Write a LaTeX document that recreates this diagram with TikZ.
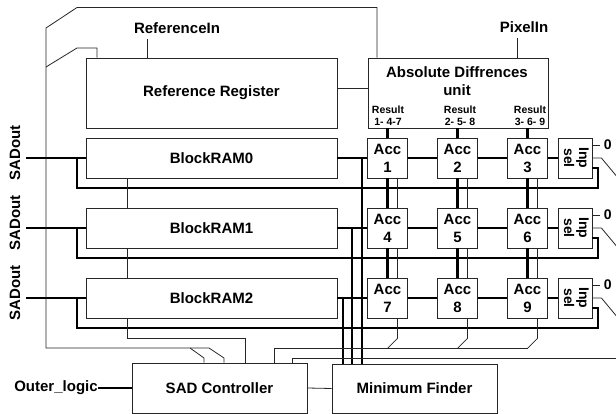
\documentclass[tikz,border=0pt]{standalone}
\usepackage{fontspec}
\setmainfont{Liberation Sans}
\begin{document}
\begin{tikzpicture}[x=1pt,y=-1pt,
  box/.style={draw=black!85, line width=0.8pt, fill=white, inner sep=0pt, font=\bfseries\fontsize{15}{18}\selectfont, align=center},
  lbl/.style={inner sep=0pt, font=\bfseries\fontsize{15}{18}\selectfont, align=center},
  small/.style={inner sep=0pt, font=\bfseries\fontsize{10.5}{12}\selectfont, align=center},
  lthin/.style={line width=0.8pt, draw=black!85},
  lmed/.style={line width=1.6pt},
  lthk/.style={line width=2.4pt},
]
\useasboundingbox (0,0) rectangle (616,414);

% main boxes
\node[box, minimum width=251pt, minimum height=70pt] (refreg) at (211.5,93) {Reference Register};
\node[box, minimum width=180pt, minimum height=70pt] (absdiff) at (458,93) {};
\node[lbl] (adtitle) at (457,81) {Absolute Diffrences\\unit};
\node[small] (res1) at (388,116) {Result\\1- 4-7};
\node[small] (res2) at (460,116) {Result\\2- 5- 8};
\node[small] (res3) at (530,116) {Result\\3- 6- 9};
\node[lbl] (refin) at (177,28) {ReferenceIn};
\node[lbl] (pixin) at (524,27) {PixelIn};
\coordinate (refinpin) at (147,39);
\coordinate (pixinpin) at (517,38);
\draw[lthin] (refinpin) -- (refinpin |- refreg.north);
\draw[lthin] (pixinpin) -- (pixinpin |- absdiff.north);
\draw[lthin] ([yshift=5pt]refreg.east) -- ([yshift=5pt]absdiff.west);

\node[box, minimum width=175pt, minimum height=50pt] (sad) at (219.5,388) {SAD Controller};
\node[box, minimum width=165pt, minimum height=49pt] (minf) at (414.5,388.5) {Minimum Finder};
\node[lbl] (outer) at (56,388) {Outer\_logic};
\draw[lthk] (outer.east) -- (sad.west);
\draw[lthin] (sad.east) -- (minf.west);

% rows
\foreach \r/\yy in {0/158,1/228,2/298}{
  \node[box, minimum width=251pt, minimum height=40pt] (bram\r) at (211.5,\yy) {BlockRAM\r};
  \foreach \c/\xx in {1/387.5,2/457.5,3/527.5}{
    \pgfmathtruncatemacro\n{3*\r+\c}
    \node[box, minimum width=39.5pt, minimum height=40pt] (acc\n) at (\xx,\yy) {Acc\\\n};
  }
  \node[box, minimum width=34pt, minimum height=40pt] (inp\r) at (575,\yy)
    {\rotatebox{-90}{\fontsize{14}{17}\selectfont\begin{tabular}{@{}c@{}}Inp\\[-2pt]sel\end{tabular}}};
  \node[lbl, rotate=90] (sadout\r) at (15,\yy-5) {SADout};
}

% row connections
\foreach \r/\yy/\bb in {0/158/188,1/228/258,2/298/328}{
  \pgfmathtruncatemacro\a{3*\r+1}
  \pgfmathtruncatemacro\b{3*\r+2}
  \pgfmathtruncatemacro\c{3*\r+3}
  \coordinate (sadin\r) at (26,\yy);
  \coordinate (tap\r) at (77,\yy);
  \coordinate (turn\r) at (598,\bb);
  \draw[lthk] (sadin\r) -- (bram\r.west);
  \draw[lthk] (tap\r) |- (turn\r) |- ([yshift=-10pt]inp\r.east);
  \draw[lmed] (bram\r.east) -- (acc\a.west);
  \draw[lmed] (acc\a.east) -- (acc\b.west);
  \draw[lmed] (acc\b.east) -- (acc\c.west);
  \draw[lmed] (acc\c.east) -- (inp\r.west);
  \draw[lthin] ([yshift=13pt]inp\r.east) -- ++(8,0) node[lbl, right=3pt, font=\bfseries\fontsize{14}{16}\selectfont] (zero\r) {0};
  \draw[lthin] (inp\r.east) -- ++(9,0) -- ++(15,18);
}

% to minimum finder
\coordinate (mf0) at (362,158);
\coordinate (mf1) at (352,228);
\coordinate (mf2) at (343,298);
\foreach \r in {0,1,2}{
  \draw[lthk] (mf\r) -- (mf\r |- minf.north);
}

% column connections
\foreach \c in {1,2,3}{
  \draw[lthk] (absdiff.south -| acc\c.north) -- (acc\c.north);
}
\foreach \t/\u in {1/4,2/5,3/6,4/7,5/8,6/9}{
  \draw[lthk] (acc\t) -- (acc\u);
  \draw[lthin] ([xshift=10pt]acc\t.south) -- ([xshift=10pt]acc\u.north);
}
\foreach \t in {7,8,9}{
  \draw[lthin] ([xshift=10pt]acc\t.south) -- ++(0,20) -- ++(-10,10);
}

% result bus to SAD controller
\coordinate (rb0) at (274,348);
\coordinate (rb1) at (527.5,348);
\draw[lthin] (rb1) -- (rb0) -- (rb0 |- sad.north);
\coordinate (ob0) at (292,358);
\coordinate (ob1) at (616,358);
\draw[lthin] (ob1) -- (ob0) -- (ob0 |- sad.north);

% blockram chain
\coordinate (bv) at (127,0);
\coordinate (bvc) at (245,338);
\draw[lthin] (bram0.south -| bv) -- (bram1.north -| bv);
\draw[lthin] (bram1.south -| bv) -- (bram2.north -| bv);
\draw[lthin] (bram2.south -| bv) |- (bvc) -- (bvc |- sad.north);

% outer loop
\coordinate (lp0) at (377,7.5);
\coordinate (lp1) at (77,7.5);
\coordinate (lp2) at (46,28);
\coordinate (lp3) at (46,348);
\coordinate (lp4) at (209,348);
\coordinate (lp5) at (224,358);
\coordinate (lp6) at (190,348);
\coordinate (lp7) at (204,358);
\draw[lthin] (lp0 |- absdiff.north) -- (lp0) -- (lp1) -- (lp2) -- (lp3) -- (lp4) -- (lp5) -- (lp5 |- sad.north);
\draw[lthin] (lp6) -- (lp7) -- (lp7 |- sad.north);
\coordinate (in0) at (46,67);
\coordinate (in1) at (77,48);
\coordinate (in2) at (97,48);
\draw[lthin] (in0) -- (in1) -- (in2) -- (in2 |- refreg.north);
\end{tikzpicture}
\end{document}
